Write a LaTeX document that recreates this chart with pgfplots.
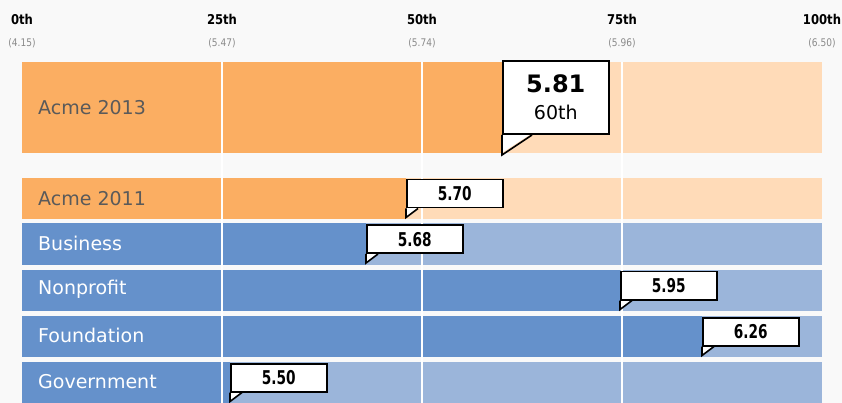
\documentclass[border=0pt]{standalone}
\usepackage{fontspec}
\setmainfont{DejaVu Sans}
\newfontfamily\condbold{DejaVu Sans}[FakeStretch=0.72]
\newfontfamily\tickfont{DejaVu Sans}[FakeStretch=0.86]
\usepackage{pgfplots}
\pgfplotsset{compat=1.18}
\definecolor{orD}{HTML}{FBAE62}
\definecolor{orL}{HTML}{FFDBB8}
\definecolor{blD}{HTML}{6591CB}
\definecolor{blL}{HTML}{9BB5DA}
\definecolor{bgc}{HTML}{F9F9F9}
\definecolor{lbl}{HTML}{5A5A5A}
\definecolor{sub}{HTML}{8A8A8A}
\tikzset{
  smallcall/.style={rectangle, draw=black, line width=1.6pt, fill=white,
    anchor=south west, minimum width=96pt, minimum height=28pt, inner sep=0pt,
    yshift=-10pt, font=\condbold\bfseries\fontsize{19}{19}\selectfont, text=black},
  bigcall/.style={rectangle, draw=black, line width=1.6pt, fill=white,
    anchor=south west, minimum width=106pt, minimum height=73pt, inner sep=0pt, align=center,
    yshift=-27.5pt, font=\fontsize{24}{28}\selectfont, text=black},
  rowlbl/.style={anchor=west, font=\fontsize{19}{19}\selectfont, inner sep=0pt}
}
\pgfplotsset{
  ptrfill/.style={fill=white, draw=none},
  ptredge/.style={black, line width=1.6pt, line join=miter, mark=none}
}
\begin{document}
\begin{tikzpicture}
\fill[bgc] (-22pt,0pt) rectangle (820pt,403pt);
\begin{axis}[
  at={(0pt,0pt)}, anchor=south west,
  width=800pt, height=341pt, scale only axis,
  xmin=0, xmax=100, ymin=62, ymax=403, y dir=reverse,
  axis line style={draw=none}, ytick=\empty,
  xtick={0,25,50,75,100},
  xticklabels={
    {\textbf{0th}\\{\fontsize{10.5}{12}\selectfont\color{sub}(4.15)}},
    {\textbf{25th}\\{\fontsize{10.5}{12}\selectfont\color{sub}(5.47)}},
    {\textbf{50th}\\{\fontsize{10.5}{12}\selectfont\color{sub}(5.74)}},
    {\textbf{75th}\\{\fontsize{10.5}{12}\selectfont\color{sub}(5.96)}},
    {\textbf{100th}\\{\fontsize{10.5}{12}\selectfont\color{sub}(6.50)}}},
  xticklabel pos=upper,
  major tick length=0pt,
  xticklabel style={align=center, anchor=south, font=\tickfont\fontsize{13.5}{22}\selectfont, inner sep=0pt, yshift=14pt},
  clip=false,
]
% Acme 2013
\addplot[xbar, bar shift=0pt, bar width=91, fill=orL, draw=none] coordinates {(100,107.5)};
\addplot[xbar, bar shift=0pt, bar width=91, fill=orD, draw=none] coordinates {(60,107.5)};
% Acme 2011
\addplot[xbar, bar shift=0pt, bar width=41, fill=orL, draw=none] coordinates {(100,198.5)};
\addplot[xbar, bar shift=0pt, bar width=41, fill=orD, draw=none] coordinates {(48,198.5)};
% Business
\addplot[xbar, bar shift=0pt, bar width=42, fill=blL, draw=none] coordinates {(100,244)};
\addplot[xbar, bar shift=0pt, bar width=42, fill=blD, draw=none] coordinates {(43,244)};
% Nonprofit
\addplot[xbar, bar shift=0pt, bar width=41, fill=blL, draw=none] coordinates {(100,290.5)};
\addplot[xbar, bar shift=0pt, bar width=41, fill=blD, draw=none] coordinates {(74.75,290.5)};
% Foundation
\addplot[xbar, bar shift=0pt, bar width=41, fill=blL, draw=none] coordinates {(100,336.5)};
\addplot[xbar, bar shift=0pt, bar width=41, fill=blD, draw=none] coordinates {(85,336.5)};
% Government
\addplot[xbar, bar shift=0pt, bar width=41, fill=blL, draw=none] coordinates {(100,382.5)};
\addplot[xbar, bar shift=0pt, bar width=41, fill=blD, draw=none] coordinates {(26,382.5)};
% grid lines
\addplot[white, line width=2.5pt] coordinates {(25,62) (25,403)};
\addplot[white, line width=2.5pt] coordinates {(50,62) (50,403)};
\addplot[white, line width=2.5pt] coordinates {(75,62) (75,403)};
% row labels
\node[rowlbl, text=lbl] at (axis cs:2,108) {Acme 2013};
\node[rowlbl, text=lbl] at (axis cs:2,198.5) {Acme 2011};
\node[rowlbl, text=white] at (axis cs:2,243) {Business};
\node[rowlbl, text=white] at (axis cs:2,289.5) {Nonprofit};
\node[rowlbl, text=white] at (axis cs:2,335.5) {Foundation};
\node[rowlbl, text=white] at (axis cs:2,381.5) {Government};
% callout boxes
\addplot[draw=none, mark=none, nodes near coords={\textbf{5.81}\\[-1pt]{\fontsize{19}{22}\selectfont 60th}},
  every node near coord/.style={bigcall}] coordinates {(60,107.5)};
\addplot[draw=none, mark=none, nodes near coords={5.70}, every node near coord/.style={smallcall}] coordinates {(48,198.5)};
\addplot[draw=none, mark=none, nodes near coords={5.68}, every node near coord/.style={smallcall}] coordinates {(43,244)};
\addplot[draw=none, mark=none, nodes near coords={5.95}, every node near coord/.style={smallcall}] coordinates {(74.75,290.5)};
\addplot[draw=none, mark=none, nodes near coords={6.26}, every node near coord/.style={smallcall}] coordinates {(85,336.5)};
\addplot[draw=none, mark=none, nodes near coords={5.50}, every node near coord/.style={smallcall}] coordinates {(26,382.5)};
% callout pointers
\addplot[ptrfill] coordinates {(60.15,134) (60.15,152) (63.6,134)} -- cycle;
\addplot[ptredge] coordinates {(60,135) (60,155) (63.75,135)};
\addplot[ptrfill] coordinates {(48.15,207.5) (48.15,216) (49.45,207.5)} -- cycle;
\addplot[ptredge] coordinates {(48,208.5) (48,217.5) (49.5,208.5)};
\addplot[ptrfill] coordinates {(43.15,253) (43.15,261.5) (44.45,253)} -- cycle;
\addplot[ptredge] coordinates {(43,254) (43,263) (44.5,254)};
\addplot[ptrfill] coordinates {(74.9,299.5) (74.9,308) (76.2,299.5)} -- cycle;
\addplot[ptredge] coordinates {(74.75,300.5) (74.75,309.5) (76.25,300.5)};
\addplot[ptrfill] coordinates {(85.15,345.5) (85.15,354) (86.45,345.5)} -- cycle;
\addplot[ptredge] coordinates {(85,346.5) (85,355.5) (86.5,346.5)};
\addplot[ptrfill] coordinates {(26.15,391.5) (26.15,400) (27.45,391.5)} -- cycle;
\addplot[ptredge] coordinates {(26,392.5) (26,401.5) (27.5,392.5)};
\end{axis}
\pgfresetboundingbox
\path[use as bounding box] (-22pt,0pt) rectangle (820pt,403pt);
\end{tikzpicture}
\end{document}
